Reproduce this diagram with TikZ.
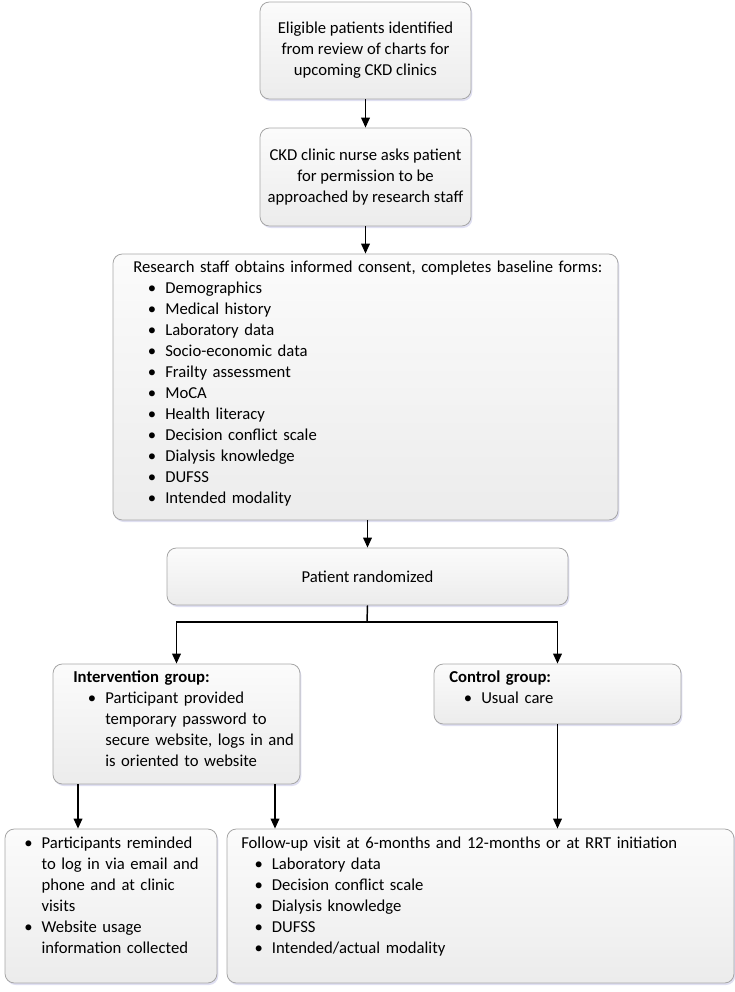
\documentclass[tikz,border=0pt]{standalone}
\usepackage{fontspec}
\setmainfont{Carlito}
\usetikzlibrary{arrows.meta,shadows}
\hyphenpenalty=10000
\exhyphenpenalty=10000

% bullet line with hanging indent: \li[indent]{text}
\newcommand{\li}[2][11pt]{\noindent\hangindent=\dimexpr#1+13pt\relax\hangafter=1\hspace*{#1}\makebox[13pt][l]{\textbullet}#2\par}

\tikzset{
  box/.style={draw=gray!70, line width=0.6pt, rounded corners=7pt,
    top color=gray!3, bottom color=gray!15, align=center, inner sep=2pt,
    drop shadow={shadow xshift=1pt, shadow yshift=-1.5pt, fill=blue!40!gray, opacity=0.18}},
  txt/.style={anchor=north west, inner sep=0pt, align=left},
  arr/.style={-{Triangle[length=7.5pt,width=6.5pt]}, line width=1.1pt},
}

\begin{document}
\begin{tikzpicture}[x=0.75pt, y=-0.75pt, font=\fontsize{12.5pt}{15.7pt}\selectfont]
  \useasboundingbox (0,0) rectangle (735,992);

  % screening
  \node[box, minimum width=158.25pt, minimum height=72.75pt] (elig) at (365.5,50.5)
    {Eligible patients identified\\from review of charts for\\upcoming CKD clinics};
  \node[box, minimum width=158.25pt, minimum height=73.5pt] (nurse) at (365.5,177)
    {CKD clinic nurse asks patient\\for permission to be\\approached by research staff};

  % consent and baseline
  \node[box, minimum width=378.75pt, minimum height=199.5pt] (consent) at (365.5,387) {};
  \node[txt, text width=360pt] (consent-txt) at (133,261)
    {Research staff obtains informed consent, completes baseline forms:\par
     \li{Demographics}
     \li{Medical history}
     \li{Laboratory data}
     \li{Socio-economic data}
     \li{Frailty assessment}
     \li{MoCA}
     \li{Health literacy}
     \li{Decision conflict scale}
     \li{Dialysis knowledge}
     \li{DUFSS}
     \li{Intended modality}};

  \node[box, minimum width=300.75pt, minimum height=42.75pt] (random) at (367.5,576.5)
    {Patient randomized};

  % groups
  \node[box, minimum width=185.25pt, minimum height=90pt] (interv) at (176.5,724) {};
  \node[txt, text width=169pt] (interv-txt) at (73,671)
    {\textbf{Intervention group:}\par
     \li{Participant provided temporary password to secure website, logs in and is oriented to website}};
  \node[box, minimum width=185.25pt, minimum height=45pt] (control) at (557.5,694) {};
  \node[txt, text width=165pt] (control-txt) at (449,671)
    {\textbf{Control group:}\par
     \li{Usual care}};

  % follow-up
  \node[box, minimum width=159pt, minimum height=115.5pt] (remind) at (111,906) {};
  \node[txt, text width=136pt] (remind-txt) at (24,837)
    {\li[0pt]{Participants reminded to log in via email and phone and at clinic visits}
     \li[0pt]{Website usage information collected}};
  \node[box, minimum width=380.25pt, minimum height=115.5pt] (follow) at (480.5,906) {};
  \node[txt, text width=360pt] (follow-txt) at (241,837)
    {Follow-up visit at 6-months and 12-months or at RRT initiation\par
     \li[10pt]{Laboratory data}
     \li[10pt]{Decision conflict scale}
     \li[10pt]{Dialysis knowledge}
     \li[10pt]{DUFSS}
     \li[10pt]{Intended/actual modality}};

  % connectors
  \coordinate (split) at (367,622);
  \coordinate (out-l) at (78,784);
  \coordinate (out-r) at (275,784);
  \draw[arr] (elig) -- (nurse);
  \draw[arr] (nurse) -- (consent);
  \draw[arr] (consent.south -| random.north) -- (random.north);
  \draw[line width=1.1pt] (random.south) -- (split);
  \draw[arr] (split) -| (interv.north);
  \draw[arr] (split) -| (control.north);
  \draw[arr] (control.south) -- (control.south |- follow.north);
  \draw[arr] (out-l) -- (out-l |- remind.north);
  \draw[arr] (out-r) -- (out-r |- follow.north);
\end{tikzpicture}
\end{document}
